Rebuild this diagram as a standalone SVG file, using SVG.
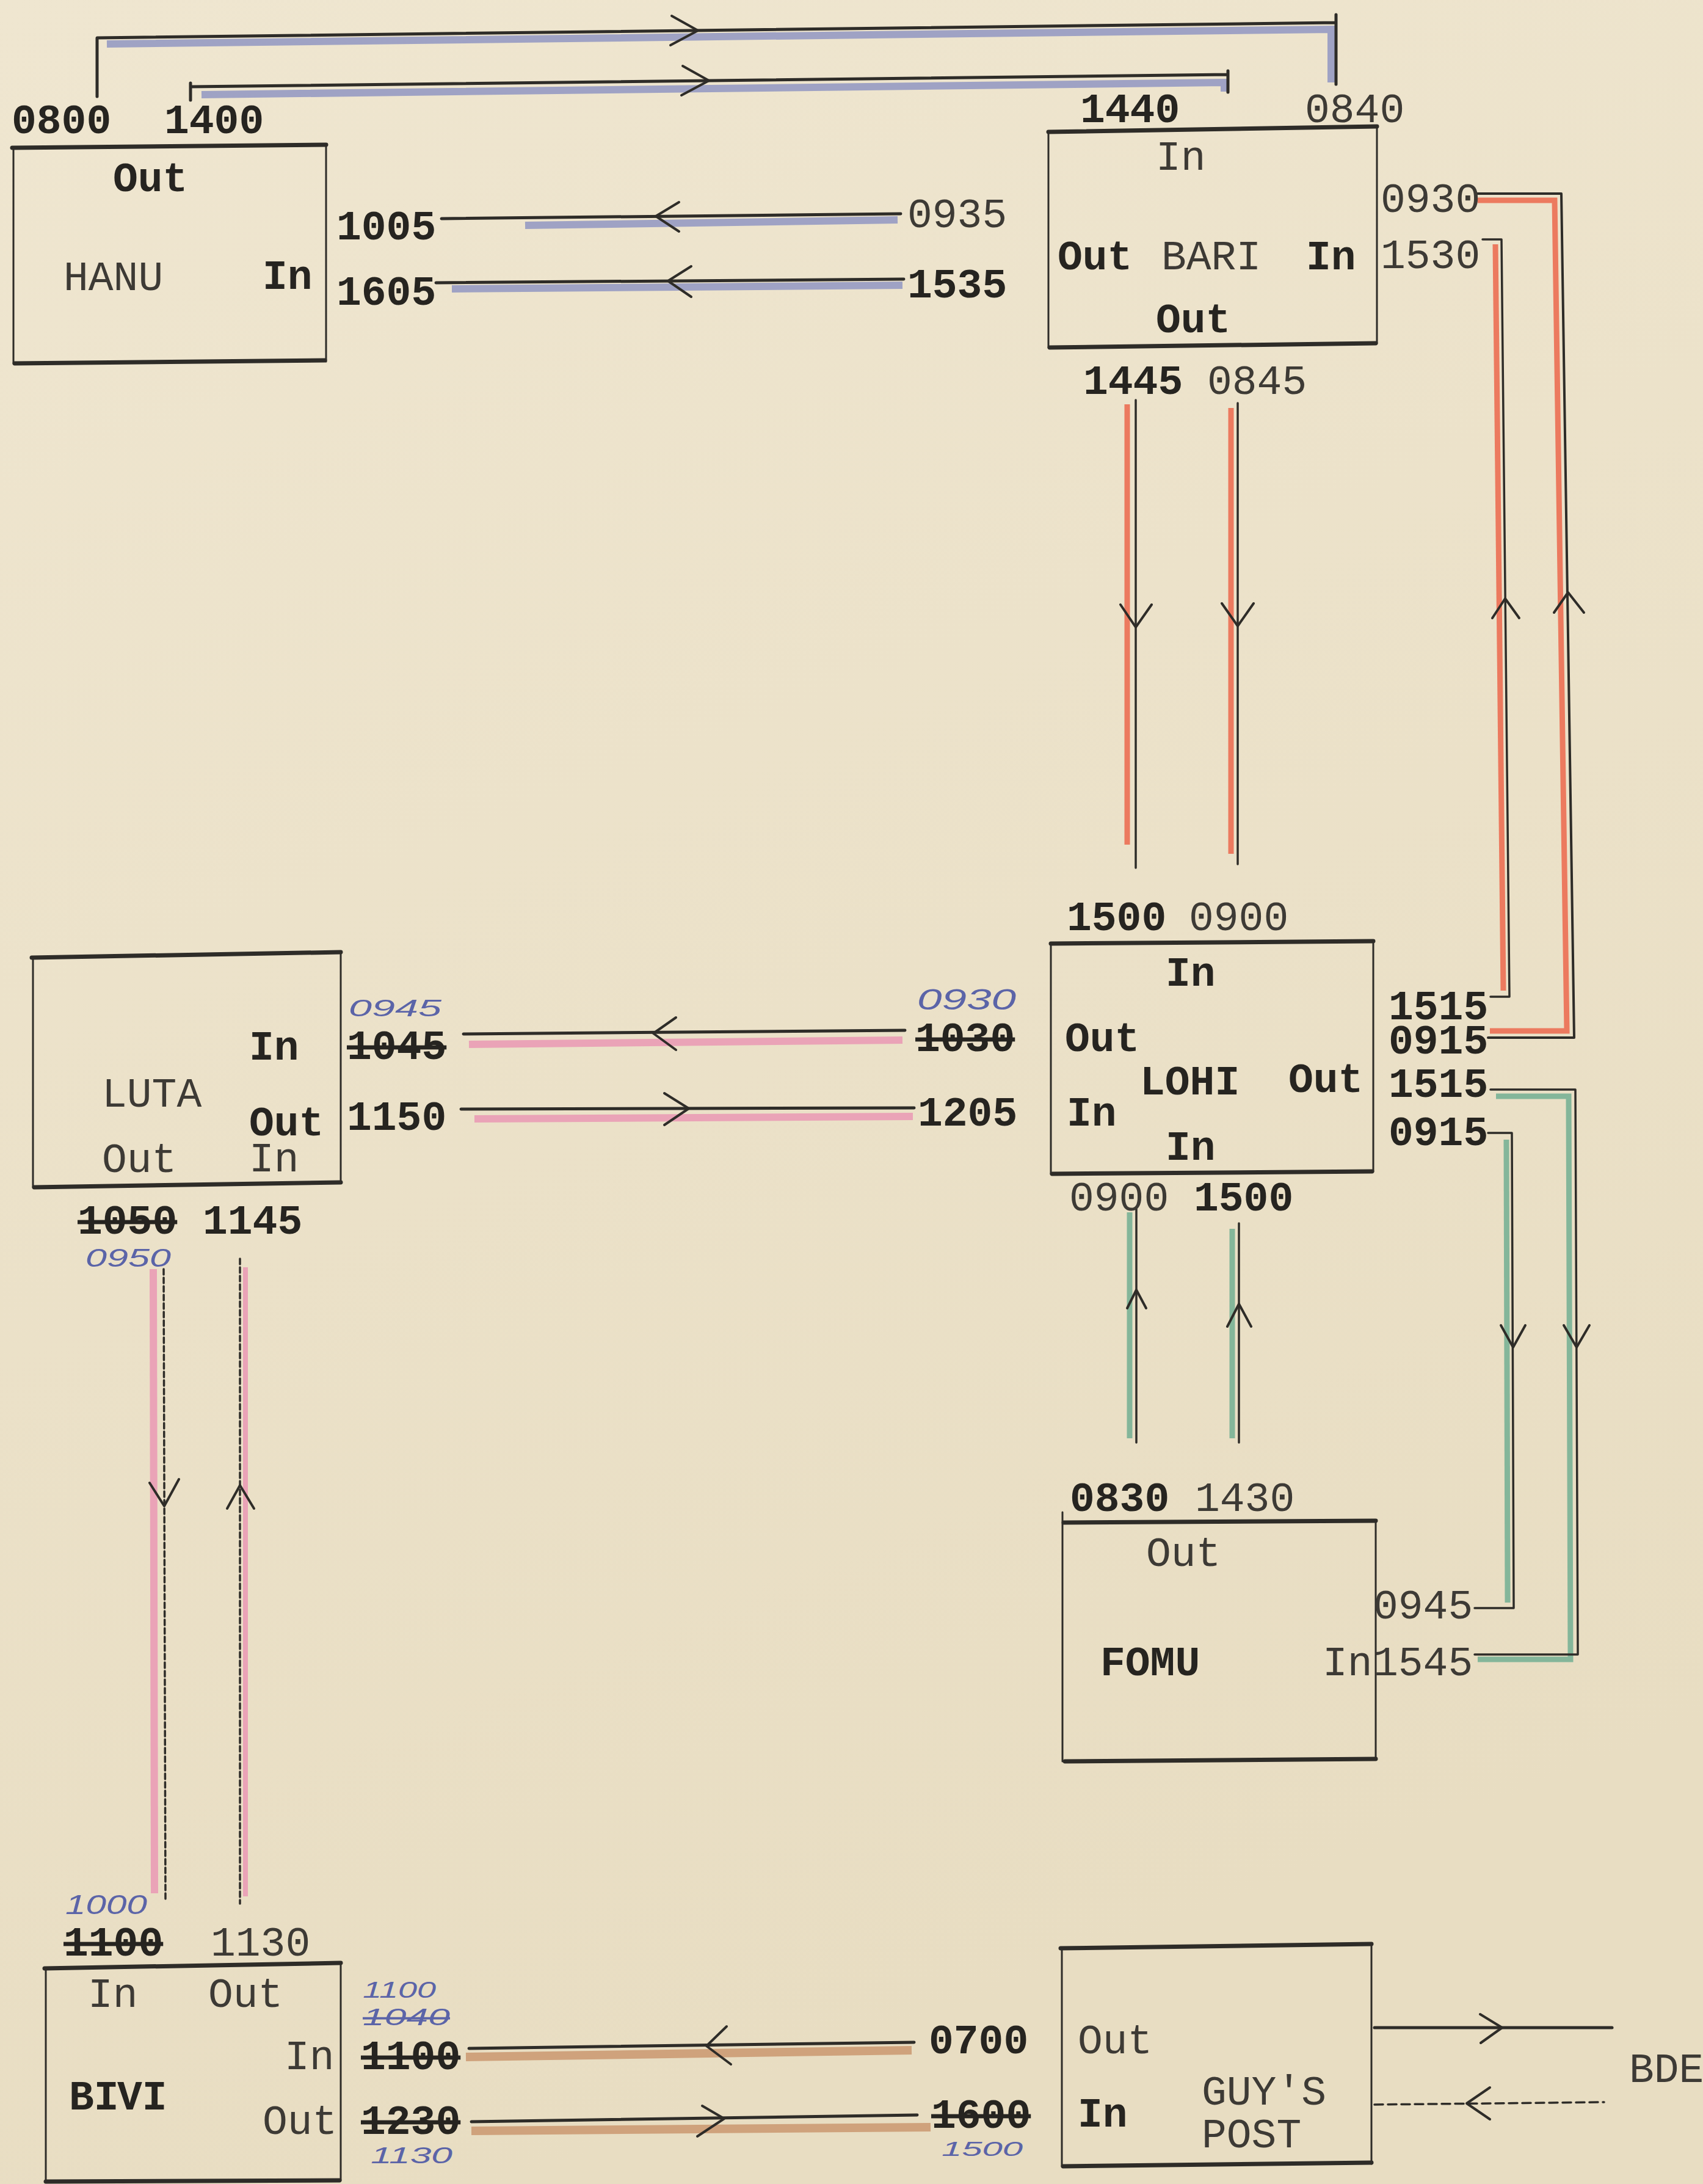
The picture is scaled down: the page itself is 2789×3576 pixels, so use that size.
<svg xmlns="http://www.w3.org/2000/svg" width="2789" height="3576" viewBox="0 0 2789 3576">
<defs>
<linearGradient id="paper" x1="0" y1="0" x2="0.3" y2="1">
<stop offset="0" stop-color="#efe6d0"/>
<stop offset="1" stop-color="#e8ddc2"/>
</linearGradient>
<style>
.t{font-family:"Liberation Mono","DejaVu Sans Mono",monospace;font-size:68px;fill:#2e2c28}
.b{font-weight:bold;fill:#262420}
.l{fill:#3d3a35}
.h{font-family:"Liberation Sans","DejaVu Sans",sans-serif;font-style:italic;fill:#5b64a8}
.s{text-decoration:line-through}
.edge{fill:none;stroke:#2e2c28;stroke-linecap:round}
.eh{stroke-width:7}
.ev{stroke-width:3}
.ink{fill:none;stroke:#2e2c28;stroke-width:5;stroke-linecap:round;stroke-linejoin:round}
.thin{stroke-width:3.5}
.dot{stroke-dasharray:9 5}
.dash{stroke-dasharray:14 8}
.chev{fill:none;stroke:#2e2c28;stroke-width:4;stroke-linecap:round;stroke-linejoin:round}
.pen{fill:none;stroke-linecap:butt;stroke-linejoin:miter}
.blue{stroke:#9196c2;stroke-width:12;opacity:.85}
.red{stroke:#ec7a5f;stroke-width:9}
.pink{stroke:#eaa3b7;stroke-width:12}
.green{stroke:#84b69a;stroke-width:9}
.tan{stroke:#cfa27c;stroke-width:14}
</style>
</defs>
<rect x="0" y="0" width="2789" height="3576" fill="url(#paper)"/>

<g id="connectors">
<!-- HANU 0800 -> BARI 0840 -->
<path class="pen blue" d="M175,72 L2180,48 V135"/>
<path class="ink" d="M159,158 V62 L2188,37 V138 M2188,37 V24"/>
<path class="chev" d="M1100,26 L1143,50 L1098,74"/>
<!-- HANU 1400 -> BARI 1440 -->
<path class="pen blue" d="M330,155 L2005,135 V150"/>
<path class="ink" d="M312,164 V136 M312,142 L2011,122 M2011,116 V151"/>
<path class="chev" d="M1118,108 L1161,132 L1116,156"/>
<!-- BARI 0935 -> HANU 1005 -->
<path class="pen blue" d="M860,369 L1470,360"/>
<path class="ink" d="M723,358 L1475,350"/>
<path class="chev" d="M1112,331 L1074,354 L1112,379"/>
<!-- BARI 1535 -> HANU 1605 -->
<path class="pen blue" d="M740,473 L1478,467"/>
<path class="ink" d="M714,463 L1480,457"/>
<path class="chev" d="M1132,436 L1094,460 L1132,486"/>
<!-- BARI 1445 -> LOHI 1500 -->
<path class="pen red" d="M1846,662 V1383"/>
<path class="ink thin" d="M1860,655 V1421"/>
<path class="chev" d="M1835,990 L1860,1027 L1886,990"/>
<!-- BARI 0845 -> LOHI 0900 -->
<path class="pen red" d="M2016,668 V1398"/>
<path class="ink thin" d="M2027,660 V1415"/>
<path class="chev" d="M2001,988 L2027,1025 L2053,988"/>
<!-- LOHI 1515 -> BARI 1530 -->
<path class="pen red" d="M2449,400 L2462,1622"/>
<path class="ink thin" d="M2441,1632 L2472,1632 L2459,392 L2428,392"/>
<path class="chev" d="M2444,1012 L2465,980 L2488,1012"/>
<!-- LOHI 0915 -> BARI 0930 -->
<path class="pen red" d="M2420,328 L2546,328 L2566,1688 L2440,1688"/>
<path class="ink" style="stroke-width:4" d="M2419,317 L2557,317 L2578,1699 L2437,1699"/>
<path class="chev" d="M2545,1003 L2568,970 L2594,1003"/>
<!-- LOHI 1030 -> LUTA 1045 -->
<path class="pen pink" d="M768,1710 L1478,1703"/>
<path class="ink" d="M759,1693 L1482,1687"/>
<path class="chev" d="M1107,1666 L1070,1692 L1107,1719"/>
<!-- LUTA 1150 -> LOHI 1205 -->
<path class="pen pink" d="M777,1832 L1495,1828"/>
<path class="ink" d="M755,1816 L1497,1814"/>
<path class="chev" d="M1088,1790 L1128,1815 L1088,1842"/>
<!-- LUTA 1050 -> BIVI 1100 -->
<path class="pen pink" d="M251,2078 L253,3100"/>
<path class="ink thin dot" d="M268,2078 L271,3113"/>
<path class="chev" d="M245,2428 L269,2466 L293,2422"/>
<!-- BIVI 1130 -> LUTA 1145 -->
<path class="pen pink" style="stroke-width:8" d="M402,2075 V3105"/>
<path class="ink thin dot" d="M393,2061 V3117"/>
<path class="chev" d="M372,2470 L393,2432 L416,2470"/>
<!-- FOMU 0830 -> LOHI 0900 -->
<path class="pen green" d="M1850,1985 V2355"/>
<path class="ink thin" d="M1861,1976 V2362"/>
<path class="chev" d="M1846,2142 L1861,2112 L1877,2142"/>
<!-- FOMU 1430 -> LOHI 1500 -->
<path class="pen green" d="M2018,2012 V2355"/>
<path class="ink thin" d="M2029,2003 V2362"/>
<path class="chev" d="M2010,2172 L2029,2135 L2049,2172"/>
<!-- LOHI 1515 -> FOMU 1545 -->
<path class="pen green" d="M2450,1795 L2569,1795 L2572,2717 L2420,2717"/>
<path class="ink thin" d="M2441,1784 L2580,1784 L2584,2709 L2415,2709"/>
<path class="chev" d="M2561,2170 L2582,2206 L2603,2170"/>
<!-- LOHI 0915 -> FOMU 0945 -->
<path class="pen green" d="M2467,1866 L2469,2624"/>
<path class="ink thin" d="M2437,1855 L2476,1855 L2479,2633 L2415,2633"/>
<path class="chev" d="M2458,2170 L2478,2206 L2498,2170"/>
<!-- GUY'S POST 0700 -> BIVI 1100 -->
<path class="pen tan" d="M763,3368 L1493,3357"/>
<path class="ink" d="M768,3354 L1497,3344"/>
<path class="chev" d="M1190,3318 L1157,3350 L1197,3380"/>
<!-- BIVI 1230 -> GUY'S POST 1600 -->
<path class="pen tan" d="M772,3489 L1524,3483"/>
<path class="ink" d="M772,3474 L1502,3463"/>
<path class="chev" d="M1150,3448 L1186,3469 L1142,3498"/>
<!-- GUY'S POST -> BDE -->
<path class="ink" d="M2251,3320 L2640,3320"/>
<path class="chev" d="M2424,3298 L2460,3320 L2425,3345"/>
<!-- BDE -> GUY'S POST -->
<path class="ink thin dash" d="M2251,3446 L2627,3442"/>
<path class="chev" d="M2440,3418 L2402,3444 L2440,3470"/>
</g>

<g id="HANU">
<path class="edge eh" d="M20,242 L534,237 M24,595 L532,590"/>
<path class="edge ev" d="M22,242 V595 M534,237 V592"/>
<text class="t b" x="19" y="218">0800</text>
<text class="t b" x="269" y="218">1400</text>
<text class="t b" x="185" y="313">Out</text>
<text class="t l" x="104" y="475">HANU</text>
<text class="t b" x="430" y="473">In</text>
<text class="t b" x="551" y="392">1005</text>
<text class="t b" x="551" y="499">1605</text>
</g>

<g id="BARI">
<path class="edge eh" d="M1717,216 L2255,207 M1719,569 L2253,562"/>
<path class="edge ev" d="M1717,216 V569 M2255,207 V562"/>
<text class="t b" x="1769" y="200">1440</text>
<text class="t l" x="2137" y="200">0840</text>
<text class="t l" x="1893" y="278">In</text>
<text class="t b" x="1732" y="441">Out</text>
<text class="t l" x="1902" y="441">BARI</text>
<text class="t b" x="2139" y="441">In</text>
<text class="t b" x="1893" y="544">Out</text>
<text class="t l" x="1486" y="372">0935</text>
<text class="t b" x="1486" y="487">1535</text>
<text class="t l" x="2261" y="347">0930</text>
<text class="t l" x="2261" y="439">1530</text>
<text class="t b" x="1774" y="645">1445</text>
<text class="t l" x="1977" y="645">0845</text>
</g>

<g id="LOHI">
<path class="edge eh" d="M1721,1545 L2249,1541 M1723,1922 L2247,1918"/>
<path class="edge ev" d="M1721,1545 V1922 M2249,1541 V1918"/>
<text class="t b" x="1747" y="1523">1500</text>
<text class="t l" x="1947" y="1523">0900</text>
<text class="t b" x="1909" y="1614">In</text>
<text class="t b" x="1744" y="1721">Out</text>
<text class="t b" x="1867" y="1792">LOHI</text>
<text class="t b" x="2110" y="1788">Out</text>
<text class="t b" x="1747" y="1843">In</text>
<text class="t b" x="1909" y="1899">In</text>
<text class="h" x="1502" y="1653" font-size="48" textLength="162" lengthAdjust="spacingAndGlyphs">0930</text>
<text class="t b s" x="1499" y="1721">1030</text>
<text class="t b" x="1503" y="1843">1205</text>
<text class="t b" x="2274" y="1669">1515</text>
<text class="t b" x="2274" y="1725">0915</text>
<text class="t b" x="2274" y="1796">1515</text>
<text class="t b" x="2274" y="1875">0915</text>
<text class="t l" x="1751" y="1982">0900</text>
<text class="t b" x="1955" y="1982">1500</text>
</g>

<g id="LUTA">
<path class="edge eh" d="M52,1568 L558,1559 M56,1944 L558,1936"/>
<path class="edge ev" d="M54,1568 V1944 M558,1559 V1936"/>
<text class="t b" x="408" y="1735">In</text>
<text class="t l" x="167" y="1812">LUTA</text>
<text class="t b" x="408" y="1859">Out</text>
<text class="t l" x="167" y="1919">Out</text>
<text class="t l" x="408" y="1918">In</text>
<text class="h" x="571" y="1664" font-size="38" textLength="152" lengthAdjust="spacingAndGlyphs">0945</text>
<text class="t b s" x="568" y="1734">1045</text>
<text class="t b" x="568" y="1850">1150</text>
<text class="t b s" x="127" y="2020">1050</text>
<text class="t b" x="332" y="2020">1145</text>
<text class="h" x="140" y="2074" font-size="42" textLength="140" lengthAdjust="spacingAndGlyphs">0950</text>
</g>

<g id="FOMU">
<path class="edge eh" d="M1742,2493 L2253,2490 M1744,2884 L2253,2880"/>
<path class="edge ev" d="M1740,2476 V2884 M2253,2490 V2880"/>
<text class="t b" x="1752" y="2474">0830</text>
<text class="t l" x="1957" y="2474">1430</text>
<text class="t l" x="1877" y="2564">Out</text>
<text class="t b" x="1802" y="2743">FOMU</text>
<text class="t l" x="2166" y="2743">In</text>
<text class="t l" x="2249" y="2650">0945</text>
<text class="t l" x="2249" y="2743">1545</text>
</g>

<g id="BIVI">
<path class="edge eh" d="M73,3223 L558,3214 M75,3572 L556,3570"/>
<path class="edge ev" d="M75,3223 V3572 M558,3214 V3570"/>
<text class="h" x="107" y="3134" font-size="44" textLength="134" lengthAdjust="spacingAndGlyphs">1000</text>
<text class="t b s" x="104" y="3202">1100</text>
<text class="t l" x="345" y="3202">1130</text>
<text class="t l" x="144" y="3286">In</text>
<text class="t l" x="341" y="3286">Out</text>
<text class="t l" x="466" y="3388">In</text>
<text class="t b" y="3454"><tspan x="113">BI</tspan> <tspan x="192">VI</tspan></text>
<text class="t l" x="430" y="3494">Out</text>
<text class="h" x="594" y="3271" font-size="36" textLength="120" lengthAdjust="spacingAndGlyphs">1100</text>
<text class="h s" x="594" y="3316" font-size="38" textLength="143" lengthAdjust="spacingAndGlyphs">1040</text>
<text class="t b s" x="591" y="3388">1100</text>
<text class="t b s" x="591" y="3494">1230</text>
<text class="h" x="607" y="3542" font-size="36" textLength="134" lengthAdjust="spacingAndGlyphs">1130</text>
</g>

<g id="GUYS_POST">
<path class="edge eh" d="M1737,3190 L2246,3183 M1741,3547 L2246,3541"/>
<path class="edge ev" d="M1739,3190 V3547 M2246,3183 V3543"/>
<text class="t b" x="1521" y="3362">0700</text>
<text class="t b s" x="1525" y="3484">1600</text>
<text class="h" x="1542" y="3530" font-size="34" textLength="133" lengthAdjust="spacingAndGlyphs">1500</text>
<text class="t l" x="1765" y="3362">Out</text>
<text class="t b" x="1765" y="3482">In</text>
<text class="t l" x="1968" y="3446">GUY'S</text>
<text class="t l" x="1968" y="3516">POST</text>
</g>

<g id="BDE">
<text class="t l" x="2668" y="3409">BDE</text>
</g>
</svg>
